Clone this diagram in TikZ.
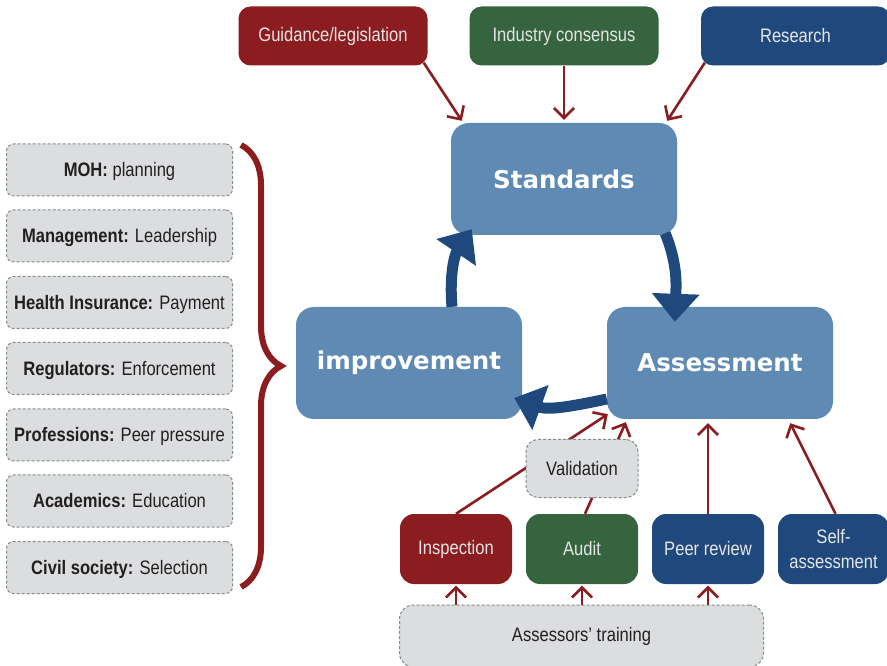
\documentclass[tikz,border=0pt]{standalone}
\usepackage{fontspec}
\setmainfont{Liberation Sans}[FakeStretch=0.85]
\newfontfamily\heavyfont{DejaVu Sans}
\usetikzlibrary{arrows.meta,decorations.pathreplacing}
\definecolor{ruby}{HTML}{8B1C1F}
\definecolor{forest}{HTML}{35643F}
\definecolor{navy}{HTML}{1F497D}
\definecolor{steel}{HTML}{5E8AB4}
\definecolor{paper}{HTML}{DCDDDF}
\definecolor{edge}{HTML}{848C8C}
\definecolor{ink}{HTML}{231F20}

\begin{document}
\begin{tikzpicture}
[x=1pt, y=1pt,
 src/.style ={rectangle, rounded corners=12pt, text=white!90!black, inner sep=2pt, minimum width=189pt, minimum height=59pt, font=\fontsize{19.5}{23}\selectfont},
 stage/.style ={rectangle, rounded corners=18pt, fill=steel, text=white, minimum width=226pt, minimum height=112pt, font=\heavyfont\bfseries\fontsize{24.5}{28}\selectfont},
 actor/.style ={rectangle, rounded corners=7pt, draw=edge, line width=1pt, dash pattern=on 3pt off 2pt, fill=paper, text=ink, minimum width=226pt, minimum height=52pt, text depth=1pt, font=\fontsize{19.5}{23}\selectfont},
 method/.style ={rectangle, rounded corners=14pt, text=white!90!black, align=center, inner sep=2pt, minimum width=112pt, minimum height=70pt, font=\fontsize{19.5}{25}\selectfont},
 check/.style ={rectangle, rounded corners=12pt, draw=edge, line width=1pt, dash pattern=on 3pt off 2pt, fill=paper, text=ink, font=\fontsize{19.5}{23}\selectfont},
 line/.style ={draw=ruby, line width=2.6pt, -{Straight Barb[length=10pt,width=20pt]}},
 cycle/.style ={draw=navy, line width=11pt, -{Triangle[length=28pt,width=46pt]}},
 brace/.style ={draw=ruby, line width=6pt, decorate, decoration={brace, amplitude=40pt}}]
\useasboundingbox (0,0) rectangle (887,665);
\draw (564, 486) node[stage] (std) {Standards};
\draw (409, 302) node[stage] (impr) {improvement};
\draw (720, 302) node[stage] (assess) {Assessment};
\draw (333, 629) node[src, fill=ruby] (guid) {Guidance/legislation};
\draw (564, 629) node[src, fill=forest] (ind) {Industry consensus};
\draw (795.5, 629) node[src, fill=navy] (res) {Research};
\draw (119.5, 495) node[actor] (moh) {\textbf{MOH:} planning};
\draw (119.5, 429) node[actor] (mgmt) {\textbf{Management:} Leadership};
\draw (119.5, 362.5) node[actor] (ins) {\textbf{Health Insurance:} Payment};
\draw (119.5, 296.5) node[actor] (reg) {\textbf{Regulators:} Enforcement};
\draw (119.5, 230) node[actor] (prof) {\textbf{Professions:} Peer pressure};
\draw (119.5, 164) node[actor] (acad) {\textbf{Academics:} Education};
\draw (119.5, 97.5) node[actor] (civ) {\textbf{Civil society:} Selection};
\draw[brace] (241, 520) -- (241, 78);
\draw (456, 116) node[method, fill=ruby] (inspect) {Inspection};
\draw (582, 116) node[method, fill=forest] (audit) {Audit};
\draw (708, 116) node[method, fill=navy] (peer) {Peer review};
\draw (833.5, 116) node[method, fill=navy, minimum width=111pt] (self) {Self-\\assessment};
\draw (581.5, 29) node[check, rounded corners=14pt, minimum width=364pt, minimum height=62pt] (train) {Assessors’ training};
\draw[line] ([xshift=-4pt,yshift=3pt]guid.south east) -- ([xshift=11pt,yshift=2pt]std.north west);
\draw[line] (ind.south) -- ([yshift=3pt]std.north);
\draw[line] ([xshift=4pt,yshift=3pt]res.south west) -- ([xshift=-10pt,yshift=2pt]std.north east);
\draw[line] (inspect.north) -- ([xshift=1pt,yshift=5pt]assess.south west);
\draw[line] ([xshift=3pt]audit.north) -- ([xshift=19pt,yshift=-3pt]assess.south west);
\draw[line] (peer.north) -- ([yshift=-4pt]peer.north |- assess.south);
\draw[line] ([xshift=2pt]self.north) -- ([xshift=-43pt,yshift=-4pt]assess.south east);
\draw[line, shorten >=1.5pt] (inspect.south |- train.north) -- (inspect.south);
\draw[line, shorten >=1.5pt] (audit.south |- train.north) -- (audit.south);
\draw[line, shorten >=1.5pt] (peer.south |- train.north) -- (peer.south);
\draw (582, 196.5) node[check, minimum width=112pt, minimum height=58pt] (valid) {Validation};
\draw[cycle] ([xshift=43pt]impr.north) to[out=95, in=-124] ([xshift=21pt,yshift=6pt]std.south west);
\draw[cycle] ([xshift=-12pt,yshift=2pt]std.south east) to[out=-68, in=88] ([xshift=68pt,yshift=-15pt]assess.north west);
\draw[cycle] ([yshift=-36pt]assess.west) to[out=192, in=-20] ([xshift=-8pt,yshift=-35pt]impr.east);
\end{tikzpicture}
\end{document}
